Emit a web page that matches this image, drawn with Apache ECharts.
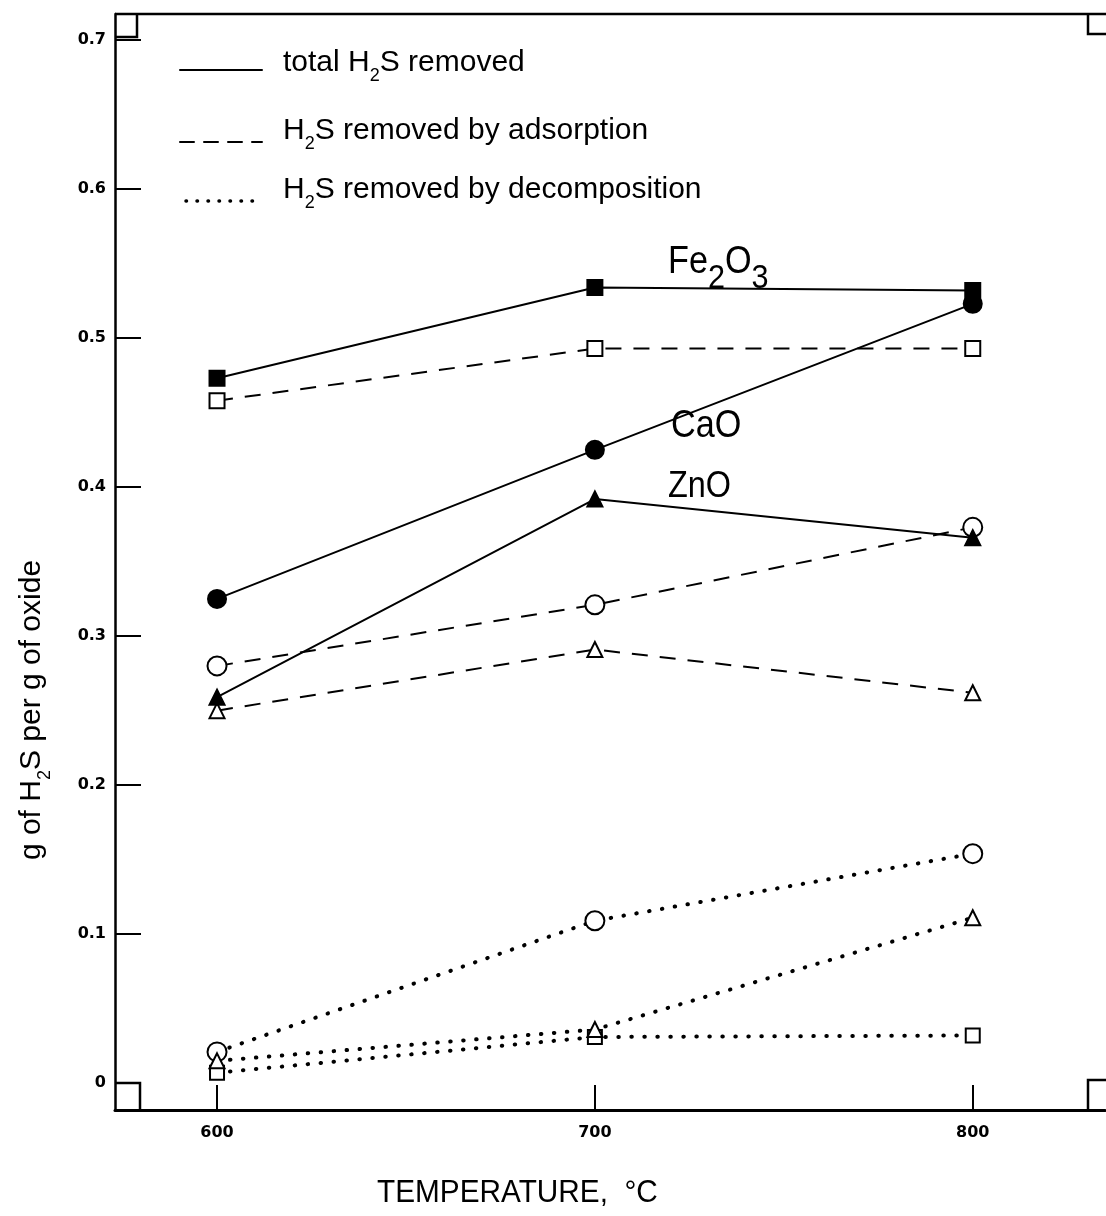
<!DOCTYPE html>
<html>
<head>
<meta charset="utf-8">
<script src="https://cdn.jsdelivr.net/npm/echarts@6/dist/echarts.min.js"></script>
<style>
  html, body { margin: 0; padding: 0; background: #fff; }
  #main { width: 1106px; height: 1216px; }
</style>
</head>
<body>
<div id="main"></div>
<script>
// 温度 (°C)
var temps = [600, 700, 800];
var xTicks = [600, 700, 800];
var yTicks = [0, 0.1, 0.2, 0.3, 0.4, 0.5, 0.6, 0.7];

// Fe2O3
var fe_total = [0.473, 0.534, 0.532];
var fe_ads   = [0.458, 0.493, 0.493];
var fe_dec   = [0.007, 0.031, 0.032];
// CaO
var ca_total = [0.325, 0.425, 0.523];
var ca_ads   = [0.280, 0.321, 0.373];
var ca_dec   = [0.021, 0.109, 0.154];
// ZnO
var zn_total = [0.259, 0.392, 0.366];
var zn_ads   = [0.250, 0.291, 0.262];
var zn_dec   = [0.015, 0.036, 0.111];

var myChart = echarts.init(document.getElementById('main'));

var FONT = '"Liberation Sans", Arial, sans-serif';

function pairs(vals) {
    return temps.map(function (t, i) { return [t, vals[i]]; });
}

var dashed = [16, 12];
var dotted = [0.5, 12.5];

function mk(name, vals, symbol, filled, dash, size) {
    return {
        name: name,
        type: 'line',
        data: pairs(vals),
        symbol: symbol,
        symbolSize: size,
        showAllSymbol: true,
        z: filled ? 4 : 3,
        itemStyle: {
            color: filled ? '#000' : '#fff',
            borderColor: '#000',
            borderWidth: 2
        },
        lineStyle: {
            color: '#000',
            width: dash === dotted ? 4 : 2,
            type: dash,
            cap: dash === dotted ? 'round' : 'butt'
        },
        emphasis: { disabled: true },
        animation: false
    };
}

var series = [
    mk('Fe2O3 total', fe_total, 'rect', true, 'solid', 15),
    mk('Fe2O3 ads', fe_ads, 'rect', false, dashed, 15),
    mk('Fe2O3 dec', fe_dec, 'rect', false, dotted, 14),
    mk('CaO total', ca_total, 'circle', true, 'solid', 18),
    mk('CaO ads', ca_ads, 'circle', false, dashed, 19),
    mk('CaO dec', ca_dec, 'circle', false, dotted, 19),
    mk('ZnO total', zn_total, 'triangle', true, 'solid', 15),
    mk('ZnO ads', zn_ads, 'triangle', false, dashed, 15),
    mk('ZnO dec', zn_dec, 'triangle', false, dotted, 15)
];

// 图例（手绘）
function legendLine(x1, y, dash, w) {
    return {
        type: 'line',
        shape: { x1: x1, y1: y, x2: 262, y2: y },
        style: { stroke: '#000', lineWidth: w, lineDash: dash, lineCap: 'round' }
    };
}
var rich = {
    a: { fontFamily: FONT, fontSize: 30, color: '#000', lineHeight: 34, verticalAlign: 'bottom' },
    s: { fontFamily: FONT, fontSize: 18, color: '#000', lineHeight: 24, verticalAlign: 'bottom', padding: [0, 0, -7, 0] }
};
function legendText(y, str) {
    return {
        type: 'text', x: 283, y: y,
        style: { text: str, rich: rich, verticalAlign: 'top' }
    };
}

// 角上的小方框
function corner(points) {
    return {
        type: 'polyline',
        shape: { points: points },
        style: { stroke: '#000', lineWidth: 2.5, fill: null }
    };
}

var big = { fontFamily: FONT, fontSize: 38, color: '#000', lineHeight: 44, verticalAlign: 'bottom' };
var bigSub = { fontFamily: FONT, fontSize: 34, color: '#000', lineHeight: 40, verticalAlign: 'bottom', padding: [0, 0, -14, 0] };

var option = {
    backgroundColor: '#fff',
    animation: false,
    grid: { left: 115, top: 14, right: 1, bottom: 106, show: false, containLabel: false, outerBoundsMode: 'none' },
    xAxis: {
        type: 'value',
        min: 573,
        max: 835,
        axisLine: { show: true, onZero: false, lineStyle: { color: '#000', width: 3 } },
        axisTick: { show: true, inside: true, length: 25, customValues: xTicks, lineStyle: { color: '#000', width: 2 } },
        axisLabel: {
            customValues: xTicks, margin: 15,
            fontFamily: '"DejaVu Sans", sans-serif', fontWeight: 'bold', fontSize: 16, color: '#000'
        },
        splitLine: { show: false }
    },
    yAxis: {
        type: 'value',
        min: -0.018,
        max: 0.7175,
        axisLine: { show: true, onZero: false, lineStyle: { color: '#000', width: 2.5 } },
        axisTick: { show: true, inside: true, length: 26, customValues: yTicks, lineStyle: { color: '#000', width: 2 } },
        axisLabel: {
            customValues: yTicks, margin: 9,
            fontFamily: '"DejaVu Sans", sans-serif', fontWeight: 'bold', fontSize: 16, color: '#000',
            formatter: function (v) { return v === 0 ? '0' : v.toFixed(1); }
        },
        splitLine: { show: false }
    },
    graphic: [
        // 上边框
        { type: 'line', shape: { x1: 115, y1: 14, x2: 1106, y2: 14 }, style: { stroke: '#000', lineWidth: 2.5 } },
        corner([[115, 37], [137, 37], [137, 14]]),
        corner([[115, 1083], [140, 1083], [140, 1110]]),
        corner([[1106, 34], [1088, 34], [1088, 14]]),
        corner([[1106, 1080], [1088, 1080], [1088, 1110]]),
        legendLine(180, 70, null, 2),
        legendLine(180, 142, [14, 10], 2),
        legendLine(186, 201, [0.5, 10.5], 3.5),
        legendText(44, '{a|total H}{s|2}{a|S removed}'),
        legendText(112, '{a|H}{s|2}{a|S removed by adsorption}'),
        legendText(171, '{a|H}{s|2}{a|S removed by decomposition}'),
        {
            type: 'text', x: 668, y: 238, scaleX: 0.9,
            style: { text: '{b|Fe}{c|2}{b|O}{c|3}', rich: { b: big, c: bigSub }, verticalAlign: 'top' }
        },
        { type: 'text', x: 671, y: 408, scaleX: 0.9, style: { text: 'CaO', font: '38px ' + FONT, fill: '#000', verticalAlign: 'top' } },
        { type: 'text', x: 668, y: 469, scaleX: 0.9, style: { text: 'ZnO', font: '36px ' + FONT, fill: '#000', verticalAlign: 'top' } },
        {
            type: 'text', x: 30, y: 710, rotation: Math.PI / 2,
            style: { text: '{a|g of H}{s|2}{a|S per g of oxide}', rich: rich, align: 'center', verticalAlign: 'middle' }
        },
        { type: 'text', x: 377, y: 1178, scaleX: 0.96, style: { text: 'TEMPERATURE,  \u00B0C', font: '31px ' + FONT, fill: '#000', verticalAlign: 'top' } }
    ],
    series: series
};

myChart.setOption(option);
</script>
</body>
</html>
